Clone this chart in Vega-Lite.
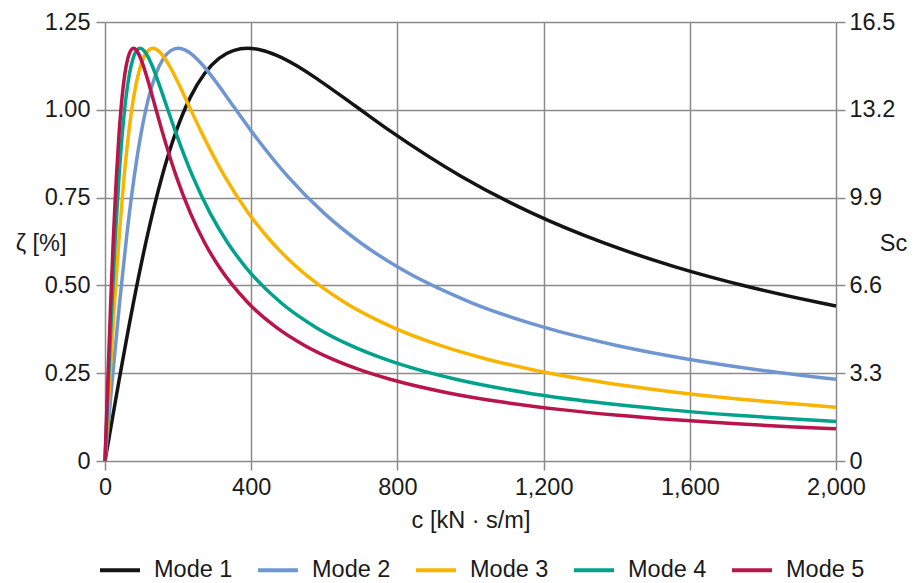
{
  "$schema": "https://vega.github.io/schema/vega-lite/v6.json",
  "width": 731,
  "height": 439,
  "autosize": {"type": "none"},
  "padding": {"left": 105, "top": 22, "right": 82, "bottom": 122},
  "background": "white",
  "config": {
    "font": "Liberation Sans",
    "view": {"stroke": null},
    "axis": {
      "gridColor": "#8a8a8a", "gridWidth": 1.5, "gridOpacity": 1,
      "tickColor": "#8a8a8a", "tickWidth": 1.5, "tickSize": 9,
      "domain": false, "labelFlush": false,
      "labelFontSize": 23.5, "labelColor": "#1a1a1a", "labelPadding": 5,
      "titleFontSize": 23.5, "titleFontWeight": "normal", "titleColor": "#1a1a1a"
    }
  },
  "layer": [
    {
      "data": {"values": [
        {"c":0,"m":"Mode 1","z":0},{"c":39,"m":"Mode 1","z":0.2327},{"c":78,"m":"Mode 1","z":0.4519},{"c":117,"m":"Mode 1","z":0.6468},{"c":156,"m":"Mode 1","z":0.8103},{"c":195,"m":"Mode 1","z":0.94},{"c":234,"m":"Mode 1","z":1.0368},{"c":273,"m":"Mode 1","z":1.104},{"c":312,"m":"Mode 1","z":1.1463},{"c":351,"m":"Mode 1","z":1.1685},{"c":390,"m":"Mode 1","z":1.175},{"c":429,"m":"Mode 1","z":1.1697},{"c":468,"m":"Mode 1","z":1.1557},{"c":527,"m":"Mode 1","z":1.124},{"c":585,"m":"Mode 1","z":1.0846},{"c":683,"m":"Mode 1","z":1.0123},{"c":780,"m":"Mode 1","z":0.94},{"c":975,"m":"Mode 1","z":0.8103},{"c":1170,"m":"Mode 1","z":0.705},{"c":1365,"m":"Mode 1","z":0.6208},{"c":1560,"m":"Mode 1","z":0.5529},{"c":1755,"m":"Mode 1","z":0.4976},{"c":1950,"m":"Mode 1","z":0.4519},{"c":2000,"m":"Mode 1","z":0.4414},
        {"c":0,"m":"Mode 2","z":0},{"c":20,"m":"Mode 2","z":0.2327},{"c":40,"m":"Mode 2","z":0.4519},{"c":60,"m":"Mode 2","z":0.6468},{"c":80,"m":"Mode 2","z":0.8103},{"c":100,"m":"Mode 2","z":0.94},{"c":120,"m":"Mode 2","z":1.0368},{"c":140,"m":"Mode 2","z":1.104},{"c":160,"m":"Mode 2","z":1.1463},{"c":180,"m":"Mode 2","z":1.1685},{"c":200,"m":"Mode 2","z":1.175},{"c":220,"m":"Mode 2","z":1.1697},{"c":240,"m":"Mode 2","z":1.1557},{"c":270,"m":"Mode 2","z":1.124},{"c":300,"m":"Mode 2","z":1.0846},{"c":350,"m":"Mode 2","z":1.0123},{"c":400,"m":"Mode 2","z":0.94},{"c":500,"m":"Mode 2","z":0.8103},{"c":600,"m":"Mode 2","z":0.705},{"c":700,"m":"Mode 2","z":0.6208},{"c":800,"m":"Mode 2","z":0.5529},{"c":1000,"m":"Mode 2","z":0.4519},{"c":1200,"m":"Mode 2","z":0.3811},{"c":1400,"m":"Mode 2","z":0.329},{"c":1600,"m":"Mode 2","z":0.2892},{"c":1800,"m":"Mode 2","z":0.2579},{"c":2000,"m":"Mode 2","z":0.2327},
        {"c":0,"m":"Mode 3","z":0},{"c":13.1,"m":"Mode 3","z":0.2327},{"c":26.2,"m":"Mode 3","z":0.4519},{"c":39.3,"m":"Mode 3","z":0.6468},{"c":52.4,"m":"Mode 3","z":0.8103},{"c":65.5,"m":"Mode 3","z":0.94},{"c":78.6,"m":"Mode 3","z":1.0368},{"c":91.7,"m":"Mode 3","z":1.104},{"c":104.8,"m":"Mode 3","z":1.1463},{"c":117.9,"m":"Mode 3","z":1.1685},{"c":131,"m":"Mode 3","z":1.175},{"c":144.1,"m":"Mode 3","z":1.1697},{"c":157.2,"m":"Mode 3","z":1.1557},{"c":176.9,"m":"Mode 3","z":1.124},{"c":196.5,"m":"Mode 3","z":1.0846},{"c":229.3,"m":"Mode 3","z":1.0123},{"c":262,"m":"Mode 3","z":0.94},{"c":327.5,"m":"Mode 3","z":0.8103},{"c":393,"m":"Mode 3","z":0.705},{"c":458.5,"m":"Mode 3","z":0.6208},{"c":524,"m":"Mode 3","z":0.5529},{"c":655,"m":"Mode 3","z":0.4519},{"c":786,"m":"Mode 3","z":0.3811},{"c":917,"m":"Mode 3","z":0.329},{"c":1048,"m":"Mode 3","z":0.2892},{"c":1179,"m":"Mode 3","z":0.2579},{"c":1310,"m":"Mode 3","z":0.2327},{"c":1572,"m":"Mode 3","z":0.1945},{"c":1834,"m":"Mode 3","z":0.167},{"c":2000,"m":"Mode 3","z":0.1533},
        {"c":0,"m":"Mode 4","z":0},{"c":9.6,"m":"Mode 4","z":0.2327},{"c":19.2,"m":"Mode 4","z":0.4519},{"c":28.8,"m":"Mode 4","z":0.6468},{"c":38.4,"m":"Mode 4","z":0.8103},{"c":48,"m":"Mode 4","z":0.94},{"c":57.6,"m":"Mode 4","z":1.0368},{"c":67.2,"m":"Mode 4","z":1.104},{"c":76.8,"m":"Mode 4","z":1.1463},{"c":86.4,"m":"Mode 4","z":1.1685},{"c":96,"m":"Mode 4","z":1.175},{"c":105.6,"m":"Mode 4","z":1.1697},{"c":115.2,"m":"Mode 4","z":1.1557},{"c":129.6,"m":"Mode 4","z":1.124},{"c":144,"m":"Mode 4","z":1.0846},{"c":168,"m":"Mode 4","z":1.0123},{"c":192,"m":"Mode 4","z":0.94},{"c":240,"m":"Mode 4","z":0.8103},{"c":288,"m":"Mode 4","z":0.705},{"c":336,"m":"Mode 4","z":0.6208},{"c":384,"m":"Mode 4","z":0.5529},{"c":480,"m":"Mode 4","z":0.4519},{"c":576,"m":"Mode 4","z":0.3811},{"c":672,"m":"Mode 4","z":0.329},{"c":768,"m":"Mode 4","z":0.2892},{"c":864,"m":"Mode 4","z":0.2579},{"c":960,"m":"Mode 4","z":0.2327},{"c":1152,"m":"Mode 4","z":0.1945},{"c":1344,"m":"Mode 4","z":0.167},{"c":1536,"m":"Mode 4","z":0.1463},{"c":1728,"m":"Mode 4","z":0.1302},{"c":1920,"m":"Mode 4","z":0.1172},{"c":2000,"m":"Mode 4","z":0.1125},
        {"c":0,"m":"Mode 5","z":0},{"c":7.8,"m":"Mode 5","z":0.2327},{"c":15.6,"m":"Mode 5","z":0.4519},{"c":23.4,"m":"Mode 5","z":0.6468},{"c":31.2,"m":"Mode 5","z":0.8103},{"c":39,"m":"Mode 5","z":0.94},{"c":46.8,"m":"Mode 5","z":1.0368},{"c":54.6,"m":"Mode 5","z":1.104},{"c":62.4,"m":"Mode 5","z":1.1463},{"c":70.2,"m":"Mode 5","z":1.1685},{"c":78,"m":"Mode 5","z":1.175},{"c":85.8,"m":"Mode 5","z":1.1697},{"c":93.6,"m":"Mode 5","z":1.1557},{"c":105.3,"m":"Mode 5","z":1.124},{"c":117,"m":"Mode 5","z":1.0846},{"c":136.5,"m":"Mode 5","z":1.0123},{"c":156,"m":"Mode 5","z":0.94},{"c":195,"m":"Mode 5","z":0.8103},{"c":234,"m":"Mode 5","z":0.705},{"c":273,"m":"Mode 5","z":0.6208},{"c":312,"m":"Mode 5","z":0.5529},{"c":390,"m":"Mode 5","z":0.4519},{"c":468,"m":"Mode 5","z":0.3811},{"c":546,"m":"Mode 5","z":0.329},{"c":624,"m":"Mode 5","z":0.2892},{"c":702,"m":"Mode 5","z":0.2579},{"c":780,"m":"Mode 5","z":0.2327},{"c":936,"m":"Mode 5","z":0.1945},{"c":1092,"m":"Mode 5","z":0.167},{"c":1248,"m":"Mode 5","z":0.1463},{"c":1404,"m":"Mode 5","z":0.1302},{"c":1560,"m":"Mode 5","z":0.1172},{"c":1716,"m":"Mode 5","z":0.1066},{"c":1872,"m":"Mode 5","z":0.0977},{"c":2000,"m":"Mode 5","z":0.0915}
      ]},
      "mark": {"type": "line", "strokeWidth": 3.5, "interpolate": "monotone"},
      "encoding": {
        "x": {
          "field": "c", "type": "quantitative",
          "scale": {"domain": [0, 2000], "nice": false},
          "axis": {"values": [0, 400, 800, 1200, 1600, 2000], "format": ",d", "grid": true, "title": "c [kN · s/m]", "titlePadding": 10}
        },
        "y": {
          "field": "z", "type": "quantitative",
          "scale": {"domain": [0, 1.25], "nice": false},
          "axis": {
            "values": [0, 0.25, 0.5, 0.75, 1, 1.25],
            "labelExpr": "datum.value == 0 ? '0' : format(datum.value, '.2f')",
            "grid": true, "labelPadding": 6,
            "title": "ζ [%]", "titleAngle": 0, "titleAlign": "right", "titleBaseline": "middle",
            "titleX": -39, "titleY": 221
          }
        },
        "color": {
          "field": "m", "type": "nominal",
          "scale": {"domain": ["Mode 1", "Mode 2", "Mode 3", "Mode 4", "Mode 5"], "range": ["#141414", "#7096d1", "#f9b400", "#00a28c", "#b8154a"]},
          "legend": {
            "orient": "none", "legendX": -7, "legendY": 526, "direction": "horizontal", "title": null,
            "symbolType": "stroke", "symbolSize": 1600, "symbolStrokeWidth": 4,
            "labelFontSize": 23.5, "labelColor": "#1a1a1a", "labelOffset": 12, "columnPadding": 17
          }
        }
      }
    },
    {
      "data": {"values": [{"sc": 0}, {"sc": 16.5}]},
      "mark": {"type": "point", "opacity": 0},
      "encoding": {
        "y": {
          "field": "sc", "type": "quantitative",
          "scale": {"domain": [0, 16.5], "nice": false},
          "axis": {
            "orient": "right", "grid": false, "labelPadding": 4,
            "values": [0, 3.3, 6.6, 9.9, 13.2, 16.5],
            "labelExpr": "datum.value == 0 ? '0' : format(datum.value, '.1f')",
            "title": "Sc", "titleAngle": 0, "titleAlign": "center", "titleBaseline": "middle",
            "titleX": 57, "titleY": 221
          }
        }
      }
    }
  ],
  "resolve": {"scale": {"y": "independent"}}
}
